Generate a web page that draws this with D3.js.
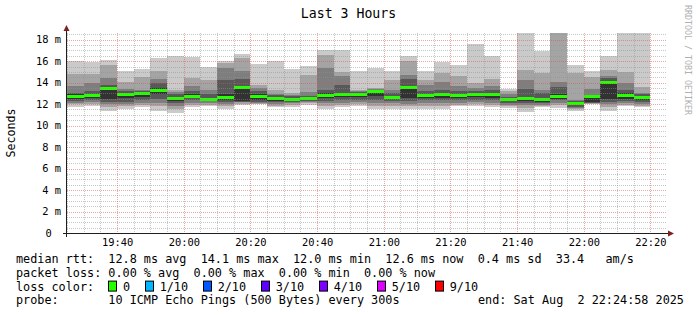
<!DOCTYPE html>
<html>
<head>
<meta charset="utf-8">
<script src="https://cdn.jsdelivr.net/npm/d3@7"></script>
<style>
    body { margin: 0; background: #fff; }
    svg { display: block; font-family: "DejaVu Sans Mono", monospace; }
</style>
</head>
<body>
<div id="chart"></div>
<script>
// start of each 5 minute step (Sat Aug 2 2025)
const stepTimes = ["19:25", "19:30", "19:35", "19:40", "19:45", "19:50", "19:55",
    "20:00", "20:05", "20:10", "20:15", "20:20", "20:25", "20:30", "20:35", "20:40", "20:45", "20:50", "20:55",
    "21:00", "21:05", "21:10", "21:15", "21:20", "21:25", "21:30", "21:35", "21:40", "21:45", "21:50", "21:55",
    "22:00", "22:05", "22:10", "22:15"];

// the 10 pings of every step, sorted, in ms
const pingSets = [
    [11.7, 12.0, 12.1, 12.3, 12.5, 12.9, 13.0, 13.7, 14.8, 16.0],
    [11.85, 12.0, 12.2, 12.4, 12.6, 12.9, 13.2, 14.0, 14.8, 15.95],
    [11.4, 11.7, 12.0, 12.2, 12.5, 13.6, 13.8, 14.45, 15.6, 16.1],
    [11.55, 11.8, 12.0, 12.2, 12.6, 13.0, 13.2, 13.4, 14.1, 15.05],
    [11.7, 11.9, 12.1, 12.4, 12.7, 13.05, 13.2, 13.35, 14.5, 15.3],
    [11.4, 11.8, 12.1, 12.5, 12.9, 13.5, 13.95, 14.3, 15.1, 16.3],
    [11.2, 11.5, 11.8, 12.1, 12.3, 12.7, 12.9, 13.1, 13.3, 16.45],
    [11.7, 11.9, 12.1, 12.4, 12.6, 12.9, 13.2, 13.65, 14.4, 16.4],
    [11.8, 11.95, 12.1, 12.25, 12.35, 12.55, 12.9, 13.35, 14.2, 15.5],
    [11.55, 11.8, 12.0, 12.2, 12.4, 12.9, 14.2, 15.4, 15.8, 16.0],
    [11.95, 12.05, 12.15, 12.2, 12.25, 13.65, 14.35, 15.1, 16.3, 16.7],
    [12.0, 12.05, 12.1, 12.2, 12.35, 12.9, 13.2, 13.5, 13.75, 15.75],
    [11.7, 11.85, 12.0, 12.15, 12.3, 12.65, 12.85, 12.95, 13.35, 16.05],
    [11.7, 11.9, 12.1, 12.2, 12.35, 12.55, 12.75, 12.85, 13.0, 15.3],
    [11.95, 12.1, 12.2, 12.3, 12.4, 12.6, 12.8, 13.1, 14.75, 15.55],
    [11.55, 11.8, 12.1, 12.3, 12.6, 13.0, 13.35, 15.35, 16.6, 17.05],
    [11.7, 11.9, 12.1, 12.4, 12.7, 13.0, 13.8, 14.6, 15.0, 17.0],
    [11.85, 12.0, 12.2, 12.4, 12.7, 12.95, 13.1, 13.2, 13.35, 15.1],
    [11.55, 11.8, 12.1, 12.4, 12.8, 13.25, 13.35, 13.45, 13.5, 15.4],
    [11.55, 11.8, 12.1, 12.3, 12.5, 12.8, 13.0, 13.35, 14.2, 15.1],
    [11.55, 11.8, 12.0, 12.3, 12.6, 13.6, 14.3, 14.75, 16.0, 16.45],
    [11.55, 11.8, 12.1, 12.4, 12.6, 12.95, 13.2, 13.8, 14.2, 15.1],
    [11.55, 11.8, 12.1, 12.35, 12.6, 13.0, 13.3, 14.1, 14.85, 15.9],
    [11.8, 11.95, 12.1, 12.35, 12.6, 12.95, 13.2, 13.7, 14.65, 15.6],
    [11.85, 12.0, 12.2, 12.4, 12.65, 13.0, 13.2, 13.5, 14.0, 17.6],
    [11.7, 11.9, 12.1, 12.35, 12.6, 13.0, 13.3, 13.65, 14.3, 16.45],
    [11.6, 11.8, 11.95, 12.1, 12.25, 12.5, 12.7, 12.9, 13.2, 13.45],
    [11.25, 11.6, 11.9, 12.1, 12.3, 12.7, 13.4, 14.2, 15.2, 19.5],
    [11.7, 11.85, 11.95, 12.1, 12.2, 12.6, 13.0, 13.35, 14.85, 16.9],
    [11.65, 11.9, 12.1, 12.35, 12.5, 12.9, 13.6, 14.1, 19.5, 20.0],
    [11.4, 11.55, 11.65, 11.7, 11.9, 12.2, 12.3, 12.4, 14.85, 15.65],
    [12.0, 12.05, 12.08, 12.1, 12.15, 12.8, 12.85, 13.4, 14.5, 15.05],
    [11.4, 11.7, 12.0, 12.2, 12.5, 14.1, 14.4, 14.65, 15.15, 16.5],
    [11.8, 11.95, 12.1, 12.3, 12.5, 13.0, 13.3, 13.95, 14.95, 19.5],
    [11.7, 11.85, 12.0, 12.2, 12.4, 12.8, 12.95, 13.05, 13.6, 19.5]
];

const medianRtt = [12.75, 12.78, 13.45, 12.9, 12.95, 13.3, 12.55, 12.75, 12.45, 12.6,
    13.55, 12.7, 12.5, 12.45, 12.5, 12.8, 12.85, 12.85, 13.15, 12.65,
    13.55, 12.8, 12.9, 12.8, 12.9, 12.9, 12.4, 12.5, 12.45, 12.7,
    12.05, 12.7, 14.05, 12.8, 12.6];

const viewRange = ["19:24:58", "22:24:58"];
const yTicks = [0, 2, 4, 6, 8, 10, 12, 14, 16, 18];
const yMax = 18.62;

const smokeShades = ["#cacaca", "#a4a4a4", "#7e7e7e", "#585858", "#323232"];
const lossLabels = ["0", "1/10", "2/10", "3/10", "4/10", "5/10", "9/10"];
const lossColors = ["#26ff00", "#00b8ff", "#0059ff", "#5e00ff", "#7e00ff", "#dd00ff", "#ff0000"];

const statNames = ["avg", "max", "min", "now"];
const rttValues = ["12.8", "14.1", "12.0", "12.6"];
const lossValues = ["0.00", "0.00", "0.00", "0.00"];
const rttSd = "0.4";
const rttAms = "33.4";


/** Smokeping style graph, drawn the way rrdtool lays it out */
class SmokeChart {

    constructor() {
        this.width = 697;
        this.height = 315;
        this.plot = {left: 67, right: 667, top: 33, bottom: 233};

        this.svg = d3.select("#chart").append("svg")
            .attr("width", this.width)
            .attr("height", this.height);

        let parseStep = d3.utcParse("%Y-%m-%d %H:%M");
        let parseView = d3.utcParse("%Y-%m-%d %H:%M:%S");
        this.steps = stepTimes.map(t => parseStep("2025-08-02 " + t));
        this.view = viewRange.map(t => parseView("2025-08-02 " + t));

        this.x = d3.scaleUtc()
            .domain(this.view)
            .range([this.plot.left, this.plot.right]);
        this.y = d3.scaleLinear()
            .domain([0, yMax])
            .range([this.plot.bottom, this.plot.top]);
    }

    drawSmoke() {
        let x = this.x, y = this.y;

        this.svg.append("clipPath").attr("id", "plotclip")
            .append("rect")
            .attr("x", this.plot.left).attr("y", this.plot.top)
            .attr("width", this.plot.right - this.plot.left)
            .attr("height", this.plot.bottom - this.plot.top);

        let g = this.svg.append("g")
            .attr("clip-path", "url(#plotclip)")
            .attr("shape-rendering", "crispEdges");

        let rows = pingSets.map((p, i) => ({t: this.steps[i], p: p, med: medianRtt[i]}));
        let x0 = d => Math.round(x(d.t));
        let w = d => Math.round(x(d3.utcMinute.offset(d.t, 5))) - Math.round(x(d.t));

        // outer pair first, inner (darkest) pair last
        smokeShades.forEach((shade, k) => {
            g.selectAll(".smoke" + k)
                .data(rows)
                .enter().append("rect")
                .attr("class", "smoke" + k)
                .attr("x", x0)
                .attr("width", w)
                .attr("y", d => Math.round(y(d.p[9 - k])))
                .attr("height", d => Math.round(y(d.p[k])) - Math.round(y(d.p[9 - k])))
                .attr("fill", shade);
        });

        g.selectAll(".median")
            .data(rows)
            .enter().append("rect")
            .attr("class", "median")
            .attr("x", x0)
            .attr("width", w)
            .attr("y", d => Math.round(y(d.med) - 1.5))
            .attr("height", 3)
            .attr("fill", lossColors[0]);
    }

    drawGrid() {
        let x = this.x, y = this.y, p = this.plot;
        let g = this.svg.append("g").attr("shape-rendering", "crispEdges");
        let minor = "rgba(143,143,143,0.5)";
        let major = "rgba(222,79,79,0.5)";

        let hLine = (cls, data, color) => g.selectAll("." + cls).data(data).enter().append("path")
            .attr("class", cls)
            .attr("d", d => "M" + p.left + "," + (Math.round(y(d)) + 0.5) + "H" + p.right)
            .attr("fill", "none")
            .attr("stroke", color).attr("stroke-dasharray", "1 1");
        let vLine = (cls, data, color) => g.selectAll("." + cls).data(data).enter().append("path")
            .attr("class", cls)
            .attr("d", d => "M" + (Math.round(x(d)) + 0.5) + "," + p.top + "V" + p.bottom)
            .attr("fill", "none")
            .attr("stroke", color).attr("stroke-dasharray", "1 1");

        let yMinor = d3.range(0.5, yMax, 0.5).filter(v => v % 2 !== 0);
        let fiveMin = d3.utcMinute.every(5).range(this.view[0], this.view[1]);
        let xMinor = fiveMin.filter(t => t.getUTCMinutes() % 20 !== 0);
        let xMajor = fiveMin.filter(t => t.getUTCMinutes() % 20 === 0);

        hLine("hminor", yMinor, minor);
        vLine("vminor", xMinor, minor);
        hLine("hmajor", yTicks.slice(1), major);
        vLine("vmajor", xMajor, major);
    }

    drawAxes() {
        let p = this.plot;
        let axisColor = "#1f1f1f", arrowColor = "#801f1f";

        let xAxis = d3.axisBottom(this.x)
            .ticks(d3.utcMinute.every(20))
            .tickFormat(d3.utcFormat("%H:%M"))
            .tickSize(0).tickPadding(5);
        let gx = this.svg.append("g")
            .attr("transform", "translate(0," + (p.bottom + 0.5) + ")")
            .call(xAxis);
        gx.select(".domain").remove();
        gx.selectAll("text").attr("font-family", "DejaVu Sans Mono").attr("font-size", 10.4).attr("fill", "#000");

        let yAxis = d3.axisLeft(this.y)
            .tickValues(yTicks)
            .tickFormat(d => d === 0 ? "0\u00a0" : d + "\u00a0m")
            .tickSize(0).tickPadding(6);
        let gy = this.svg.append("g")
            .attr("transform", "translate(" + p.left + ",0)")
            .call(yAxis);
        gy.select(".domain").remove();
        gy.selectAll("text").attr("font-family", "DejaVu Sans Mono").attr("font-size", 10.4).attr("fill", "#000")
            .attr("dx", d => d === 0 ? -3 : 0);

        // axis lines with rrdtool arrows
        this.svg.append("line")
            .attr("x1", p.left - 4).attr("x2", p.right + 4)
            .attr("y1", p.bottom + 0.5).attr("y2", p.bottom + 0.5)
            .attr("stroke", axisColor);
        this.svg.append("line")
            .attr("x1", p.left - 0.5).attr("x2", p.left - 0.5)
            .attr("y1", p.bottom + 4).attr("y2", p.top - 4)
            .attr("stroke", axisColor);
        this.svg.append("path")
            .attr("d", `M${p.right + 1},${p.bottom - 2.5}L${p.right + 7},${p.bottom + 0.5}L${p.right + 1},${p.bottom + 3.5}Z`)
            .attr("fill", arrowColor);
        this.svg.append("path")
            .attr("d", `M${p.left - 3.5},${p.top - 2}L${p.left - 0.5},${p.top - 8}L${p.left + 2.5},${p.top - 2}Z`)
            .attr("fill", arrowColor);
    }

    drawTexts() {
        let p = this.plot;

        this.svg.append("text")
            .attr("x", this.width / 2).attr("y", 17.5)
            .attr("text-anchor", "middle")
            .attr("font-size", 13.2)
            .text("Last 3 Hours");

        this.svg.append("text")
            .attr("transform", "translate(15," + ((p.top + p.bottom) / 2) + ") rotate(-90)")
            .attr("text-anchor", "middle")
            .attr("font-size", 11.6)
            .text("Seconds");

        this.svg.append("text")
            .attr("transform", "translate(685,5) rotate(90)")
            .attr("font-size", 8.3)
            .attr("fill", "#b0b0b0")
            .text("RRDTOOL / TOBI OETIKER");
    }

    drawLegend() {
        let fs = 11.8, cw = fs * 0.602, left = 16;
        let rowY = [263.3, 277, 290.6, 304.2];

        let line1 = "median rtt:  " + rttValues.map((v, i) => v + " ms " + statNames[i]).join("  ")
            + "  " + rttSd + " ms sd  " + rttAms + "   am/s";
        let line2 = "packet loss: " + lossValues.map((v, i) => v + " % " + statNames[i]).join("  ");
        let line4 = "probe:       10 ICMP Echo Pings (500 Bytes) every 300s";

        let legend = this.svg.append("g")
            .attr("font-size", fs)
            .style("white-space", "pre");

        [line1, line2, "loss color:", line4].forEach((s, i) => {
            legend.append("text")
                .attr("x", left).attr("y", rowY[i])
                .attr("xml:space", "preserve")
                .text(s);
        });

        legend.append("text")
            .attr("x", 478).attr("y", rowY[3])
            .attr("xml:space", "preserve")
            .text("end: Sat Aug  2 22:24:58 2025");

        // loss colour boxes
        let bx = left + 13 * cw;
        lossLabels.forEach((label, i) => {
            legend.append("rect")
                .attr("x", Math.round(bx) + 0.5).attr("y", rowY[2] - 9.5)
                .attr("width", 8).attr("height", 10)
                .attr("fill", lossColors[i])
                .attr("stroke", "#000");
            let tx = bx + 14.6;
            legend.append("text")
                .attr("x", tx).attr("y", rowY[2])
                .text(label);
            bx = tx + label.length * cw + 15;
        });
    }
}

let chart = new SmokeChart();
chart.drawSmoke();
chart.drawGrid();
chart.drawAxes();
chart.drawTexts();
chart.drawLegend();
</script>
</body>
</html>
